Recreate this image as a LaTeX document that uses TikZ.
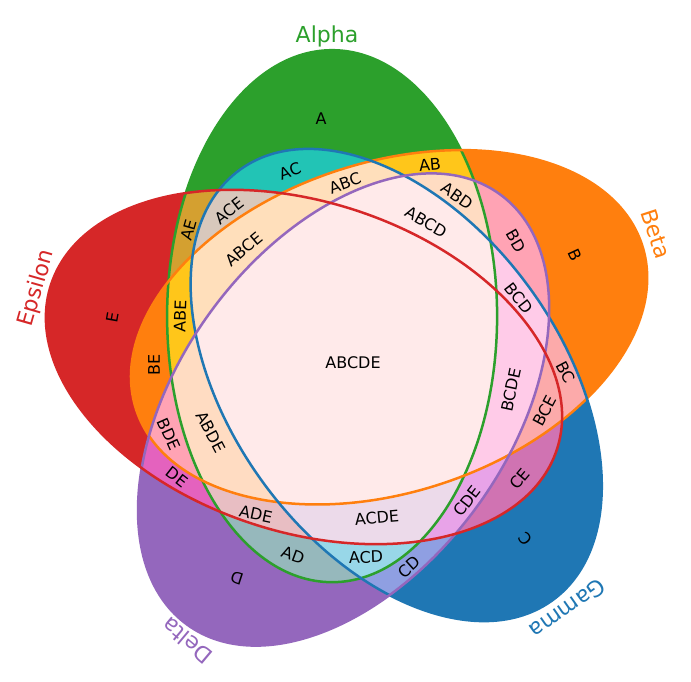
\documentclass[tikz,border=0pt]{standalone}
\usepackage{fontspec}
\setmainfont{DejaVu Sans}
\definecolor{cA}{HTML}{2CA02C}
\definecolor{cB}{HTML}{FF7F0E}
\definecolor{cC}{HTML}{1F77B4}
\definecolor{cD}{HTML}{9467BD}
\definecolor{cE}{HTML}{D62728}
\definecolor{cAB}{HTML}{FFC61A}
\definecolor{cAC}{HTML}{22C4B5}
\definecolor{cAD}{HTML}{96B8BC}
\definecolor{cAE}{HTML}{D4A030}
\definecolor{cBC}{HTML}{FCAAAA}
\definecolor{cBD}{HTML}{FFA3B4}
\definecolor{cBE}{HTML}{FF7F0E}
\definecolor{cCD}{HTML}{8F9FE2}
\definecolor{cCE}{HTML}{D073B2}
\definecolor{cDE}{HTML}{E462BE}
\definecolor{cABC}{HTML}{FFDFBB}
\definecolor{cABD}{HTML}{FFDCC2}
\definecolor{cABE}{HTML}{FFC61A}
\definecolor{cACD}{HTML}{98D7E8}
\definecolor{cACE}{HTML}{D8C8BC}
\definecolor{cADE}{HTML}{E8BEC3}
\definecolor{cBCD}{HTML}{FFCBE8}
\definecolor{cBCE}{HTML}{FCAAAA}
\definecolor{cBDE}{HTML}{FFA3B4}
\definecolor{cCDE}{HTML}{E8A3E8}
\definecolor{cABCD}{HTML}{FFEAEA}
\definecolor{cABCE}{HTML}{FFDFBB}
\definecolor{cABDE}{HTML}{FFDCC2}
\definecolor{cACDE}{HTML}{ECDAEA}
\definecolor{cBCDE}{HTML}{FFCBE8}
\definecolor{cABCDE}{HTML}{FFEAEA}
\tikzset{
  elA/.style={shift={(332.1,365.8)},rotate=90},
  elB/.style={shift={(389.1,354.7)},rotate=18},
  elC/.style={shift={(396.2,297.0)},rotate=-54},
  elD/.style={shift={(343.6,272.5)},rotate=54},
  elE/.style={shift={(304.0,315.0)},rotate=162},
  lbl/.style={font=\fontsize{16}{19}\selectfont, text=black, inner sep=0pt},
  ttl/.style={font=\fontsize{22}{26}\selectfont, inner sep=0pt},
  outline/.style={line width=2.5pt},
}
\newcommand\ci[1]{\clip[el#1] (0,0) ellipse [x radius=266pt, y radius=165pt];}
\newcommand\pf[1]{\fill[c#1] (0,0) rectangle (691,682);}
\newcommand\ol[1]{\draw[outline, c#1, el#1] (0,0) ellipse [x radius=266pt, y radius=165pt];}
\begin{document}
\begin{tikzpicture}[x=1pt,y=1pt]
\useasboundingbox (0,0) rectangle (691,682);
\fill[white] (0,0) rectangle (691,682);
% singles
\begin{scope}\ci{A}\pf{A}\end{scope}
\begin{scope}\ci{B}\pf{B}\end{scope}
\begin{scope}\ci{C}\pf{C}\end{scope}
\begin{scope}\ci{D}\pf{D}\end{scope}
\begin{scope}\ci{E}\pf{E}\end{scope}
% pairs
\begin{scope}\ci{A}\ci{B}\pf{AB}\end{scope}
\begin{scope}\ci{A}\ci{C}\pf{AC}\end{scope}
\begin{scope}\ci{A}\ci{D}\pf{AD}\end{scope}
\begin{scope}\ci{A}\ci{E}\pf{AE}\end{scope}
\begin{scope}\ci{B}\ci{C}\pf{BC}\end{scope}
\begin{scope}\ci{B}\ci{D}\pf{BD}\end{scope}
\begin{scope}\ci{B}\ci{E}\pf{BE}\end{scope}
\begin{scope}\ci{C}\ci{D}\pf{CD}\end{scope}
\begin{scope}\ci{C}\ci{E}\pf{CE}\end{scope}
\begin{scope}\ci{D}\ci{E}\pf{DE}\end{scope}
% triples
\begin{scope}\ci{A}\ci{B}\ci{C}\pf{ABC}\end{scope}
\begin{scope}\ci{A}\ci{B}\ci{D}\pf{ABD}\end{scope}
\begin{scope}\ci{A}\ci{B}\ci{E}\pf{ABE}\end{scope}
\begin{scope}\ci{A}\ci{C}\ci{D}\pf{ACD}\end{scope}
\begin{scope}\ci{A}\ci{C}\ci{E}\pf{ACE}\end{scope}
\begin{scope}\ci{A}\ci{D}\ci{E}\pf{ADE}\end{scope}
\begin{scope}\ci{B}\ci{C}\ci{D}\pf{BCD}\end{scope}
\begin{scope}\ci{B}\ci{C}\ci{E}\pf{BCE}\end{scope}
\begin{scope}\ci{B}\ci{D}\ci{E}\pf{BDE}\end{scope}
\begin{scope}\ci{C}\ci{D}\ci{E}\pf{CDE}\end{scope}
% quadruples
\begin{scope}\ci{A}\ci{B}\ci{C}\ci{D}\pf{ABCD}\end{scope}
\begin{scope}\ci{A}\ci{B}\ci{C}\ci{E}\pf{ABCE}\end{scope}
\begin{scope}\ci{A}\ci{B}\ci{D}\ci{E}\pf{ABDE}\end{scope}
\begin{scope}\ci{A}\ci{C}\ci{D}\ci{E}\pf{ACDE}\end{scope}
\begin{scope}\ci{B}\ci{C}\ci{D}\ci{E}\pf{BCDE}\end{scope}
% all five
\begin{scope}\ci{A}\ci{B}\ci{C}\ci{D}\ci{E}\pf{ABCDE}\end{scope}
% outlines
\ol{A}\ol{B}\ol{C}\ol{D}\ol{E}
% set names
\node[ttl, text=cA] (tA) at (327,646) {Alpha};
\node[ttl, text=cB, rotate=-72] (tB) at (656,448) {Beta};
\node[ttl, text=cC, rotate=215] (tC) at (568,73) {Gamma};
\node[ttl, text=cD, rotate=140] (tD) at (187,41) {Delta};
\node[ttl, text=cE, rotate=74] (tE) at (37,394) {Epsilon};
% region labels
\node[lbl] (lA) at (321,563) {A};
\node[lbl, rotate=20] (lAC) at (290,511) {AC};
\node[lbl, rotate=5] (lAB) at (430,517) {AB};
\node[lbl, rotate=20] (lABC) at (345,499) {ABC};
\node[lbl, rotate=38] (lACE) at (229,471) {ACE};
\node[lbl, rotate=74] (lAE) at (189,452) {AE};
\node[lbl, rotate=-35] (lABD) at (457,486) {ABD};
\node[lbl, rotate=-30] (lABCD) at (426,460) {ABCD};
\node[lbl, rotate=40] (lABCE) at (244,433) {ABCE};
\node[lbl, rotate=-60] (lBD) at (516,441) {BD};
\node[lbl, rotate=-65] (lB) at (575,427) {B};
\node[lbl, rotate=-52] (lBCD) at (519,384) {BCD};
\node[lbl, rotate=80] (lE) at (113,364) {E};
\node[lbl, rotate=88] (lABE) at (180,366) {ABE};
\node[lbl, rotate=90] (lBE) at (154,317) {BE};
\node[lbl] (lABCDE) at (353,319) {ABCDE};
\node[lbl, rotate=-62] (lBC) at (566,310) {BC};
\node[lbl, rotate=78] (lBCDE) at (511,292) {BCDE};
\node[lbl, rotate=62] (lBCE) at (545,271) {BCE};
\node[lbl, rotate=-66] (lBDE) at (169,248) {BDE};
\node[lbl, rotate=-62] (lABDE) at (211,250) {ABDE};
\node[lbl, rotate=-38] (lDE) at (177,205) {DE};
\node[lbl, rotate=50] (lCE) at (520,203) {CE};
\node[lbl, rotate=52] (lCDE) at (467,181) {CDE};
\node[lbl, rotate=-12] (lADE) at (256,168) {ADE};
\node[lbl, rotate=5] (lACDE) at (377,164) {ACDE};
\node[lbl, rotate=-20] (lAD) at (293,127) {AD};
\node[lbl, rotate=2] (lACD) at (366,125) {ACD};
\node[lbl, rotate=42] (lCD) at (409,115) {CD};
\node[lbl, rotate=130] (lC) at (525,143) {C};
\node[lbl, rotate=162] (lD) at (237,104) {D};
\end{tikzpicture}
\end{document}
